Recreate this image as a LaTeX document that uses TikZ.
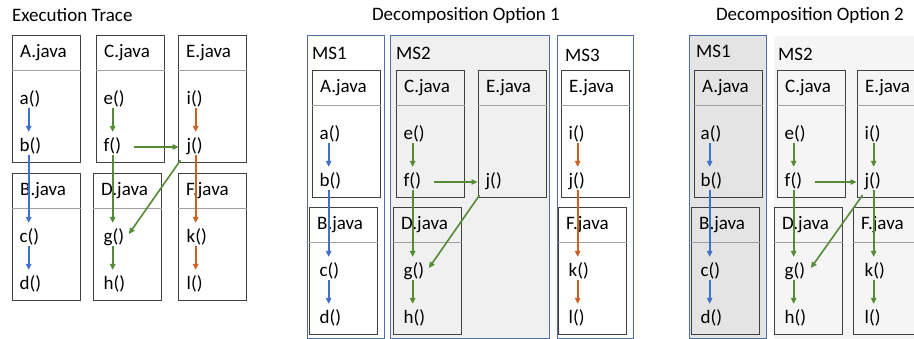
\documentclass[tikz,border=0pt]{standalone}
\usepackage{fontspec}
\setmainfont{Carlito}
\usetikzlibrary{arrows.meta,calc}
\definecolor{cblue}{HTML}{4070C8}
\definecolor{cgreen}{HTML}{558B35}
\definecolor{corange}{HTML}{CC6122}
\definecolor{msline}{HTML}{4F6FA8}
\definecolor{boxline}{HTML}{404040}
\definecolor{sepline}{HTML}{A0A0A0}
\definecolor{msfill}{HTML}{F0F0F0}
\definecolor{msdark}{HTML}{E4E4E4}
\definecolor{mslight}{HTML}{F5F5F5}
\tikzset{
  every node/.style={font=\fontsize{19}{22}\selectfont},
  classbox/.style={draw=boxline, line width=0.9pt, minimum width=68pt, minimum height=127pt, inner sep=0pt, anchor=north west},
  sepln/.style={draw=sepline, line width=0.8pt},
  lbl/.style={anchor=base west, inner sep=0pt},
  ttl/.style={anchor=base, inner sep=0pt},
  meth/.style={anchor=base west, inner sep=0pt, text width=18pt, align=left, text height=13pt, text depth=3pt},
  msbox/.style={draw=msline, line width=1.3pt, anchor=north west, inner sep=0pt, minimum height=303pt},
  call/.style={line width=1.6pt, -{Triangle[length=6pt,width=5.5pt]}, shorten >=7pt},
  hcall/.style={call, shorten <=12pt, shorten >=8pt},
  dcall/.style={line width=1.6pt, -{Triangle[length=6pt,width=5.5pt]}}
}
% #1 options, #2 name, #3 x, #4 y, #5 label
\newcommand\clsbox[5][]{%
  \node[classbox,#1] (#2) at (#3,#4) {};
  \draw[sepln] ($(#2.north west)+(0,35)$) -- ($(#2.north east)+(0,35)$);
  \node[lbl] (#2-l) at ($(#2.north west)+(8,23)$) {#5};
}
\begin{document}
\begin{tikzpicture}[x=1pt,y=-1pt]
\useasboundingbox (0,0) rectangle (914,339);
\clip (0,0) rectangle (914,339);

% ---------------- Panel 1: Execution Trace ----------------
\node[lbl] (t1) at (12,22) {Execution Trace};
\clsbox{p1A}{12}{35}{A.java}
\clsbox{p1C}{96}{35}{C.java}
\clsbox{p1E}{178}{35}{E.java}
\clsbox{p1B}{12}{173}{B.java}
\clsbox{p1D}{93}{173}{D.java}
\clsbox{p1F}{178}{173}{F.java}
\node[meth] (p1a) at (19.5,105) {a()};
\node[meth] (p1b) at (19.5,152) {b()};
\node[meth] (p1c) at (19.5,243) {c()};
\node[meth] (p1d) at (19.5,290) {d()};
\node[meth] (p1e) at (103.5,105) {e()};
\node[meth] (p1f) at (103.5,152) {f()};
\node[meth] (p1g) at (103.5,243) {g()};
\node[meth] (p1h) at (103.5,290) {h()};
\node[meth] (p1i) at (186.5,105) {i()};
\node[meth] (p1j) at (186.5,152) {j()};
\node[meth] (p1k) at (186.5,243) {k()};
\node[meth] (p1l) at (186.5,290) {l()};
\draw[call,cblue] (p1a.south) -- (p1b.north);
\draw[call,cblue] (p1b.south) -- (p1c.north);
\draw[call,cblue] (p1c.south) -- (p1d.north);
\draw[call,cgreen] (p1e.south) -- (p1f.north);
\draw[call,cgreen] (p1f.south) -- (p1g.north);
\draw[call,cgreen] (p1g.south) -- (p1h.north);
\draw[hcall,cgreen] (p1f.east) -- (p1j.west);
\draw[dcall,cgreen] ($(p1j.south west)+(-6,5)$) -- ($(p1g.east)+(7,-4)$);
\draw[call,corange] (p1i.south) -- (p1j.north);
\draw[call,corange] (p1j.south) -- (p1k.north);
\draw[call,corange] (p1k.south) -- (p1l.north);

% ---------------- Panel 2: Decomposition Option 1 ----------------
\node[ttl] (t2) at (466,21) {Decomposition Option 1};
\node[msbox, minimum width=77pt] (p2m1) at (307,35) {};
\node[msbox, minimum width=159pt, fill=msfill] (p2m2) at (390,35) {};
\node[msbox, minimum width=76pt] (p2m3) at (557,35) {};
\node[lbl] (p2m1l) at (312,60) {MS1};
\node[lbl] (p2m2l) at (396,60) {MS2};
\node[lbl] (p2m3l) at (565,62) {MS3};
\clsbox{p2A}{312}{70}{A.java}
\clsbox{p2B}{309}{207}{B.java}
\clsbox{p2C}{396}{70}{C.java}
\clsbox{p2E}{478}{70}{E.java}
\clsbox{p2D}{393}{207}{D.java}
\clsbox{p2E3}{561}{70}{E.java}
\clsbox{p2F}{558}{207}{F.java}
\node[meth] (p2a) at (319.5,140) {a()};
\node[meth] (p2b) at (319.5,187) {b()};
\node[meth] (p2c) at (319.5,277) {c()};
\node[meth] (p2d) at (319.5,324) {d()};
\node[meth] (p2e) at (403.5,140) {e()};
\node[meth] (p2f) at (403.5,187) {f()};
\node[meth] (p2g) at (403.5,277) {g()};
\node[meth] (p2h) at (403.5,324) {h()};
\node[meth] (p2j) at (485.5,187) {j()};
\node[meth] (p2i3) at (568.5,140) {i()};
\node[meth] (p2j3) at (568.5,187) {j()};
\node[meth] (p2k) at (568.5,277) {k()};
\node[meth] (p2l) at (568.5,324) {l()};
\draw[call,cblue] (p2a.south) -- (p2b.north);
\draw[call,cblue] (p2b.south) -- (p2c.north);
\draw[call,cblue] (p2c.south) -- (p2d.north);
\draw[call,cgreen] (p2e.south) -- (p2f.north);
\draw[call,cgreen] (p2f.south) -- (p2g.north);
\draw[call,cgreen] (p2g.south) -- (p2h.north);
\draw[hcall,cgreen] (p2f.east) -- (p2j.west);
\draw[dcall,cgreen] ($(p2j.south west)+(-6,5)$) -- ($(p2g.east)+(7,-4)$);
\draw[call,corange] (p2i3.south) -- (p2j3.north);
\draw[call,corange] (p2j3.south) -- (p2k.north);
\draw[call,corange] (p2k.south) -- (p2l.north);

% ---------------- Panel 3: Decomposition Option 2 ----------------
\node[ttl] (t3) at (810,21) {Decomposition Option 2};
\node[msbox, minimum width=77pt, fill=msdark] (p3m1) at (689,35) {};
\node[msbox, draw=none, minimum width=200pt, fill=mslight] (p3m2) at (773,35) {};
\node[lbl] (p3m1l) at (696,58) {MS1};
\node[lbl] (p3m2l) at (778,61) {MS2};
\clsbox{p3A}{694}{70}{A.java}
\clsbox{p3B}{691}{207}{B.java}
\clsbox{p3C}{777}{70}{C.java}
\clsbox{p3E}{857}{70}{E.java}
\clsbox{p3D}{774}{207}{D.java}
\clsbox{p3F}{853}{207}{F.java}
\node[meth] (p3a) at (700.5,140) {a()};
\node[meth] (p3b) at (700.5,187) {b()};
\node[meth] (p3c) at (700.5,277) {c()};
\node[meth] (p3d) at (700.5,324) {d()};
\node[meth] (p3e) at (784.5,140) {e()};
\node[meth] (p3f) at (784.5,187) {f()};
\node[meth] (p3g) at (784.5,277) {g()};
\node[meth] (p3h) at (784.5,324) {h()};
\node[meth] (p3i) at (864.5,140) {i()};
\node[meth] (p3j) at (864.5,187) {j()};
\node[meth] (p3k) at (864.5,277) {k()};
\node[meth] (p3l) at (864.5,324) {l()};
\draw[call,cblue] (p3a.south) -- (p3b.north);
\draw[call,cblue] (p3b.south) -- (p3c.north);
\draw[call,cblue] (p3c.south) -- (p3d.north);
\draw[call,cgreen] (p3e.south) -- (p3f.north);
\draw[call,cgreen] (p3f.south) -- (p3g.north);
\draw[call,cgreen] (p3g.south) -- (p3h.north);
\draw[hcall,cgreen] (p3f.east) -- (p3j.west);
\draw[dcall,cgreen] ($(p3j.south west)+(-2,5)$) -- ($(p3g.east)+(8,-4)$);
\draw[call,cgreen] (p3i.south) -- (p3j.north);
\draw[call,cgreen] (p3j.south) -- (p3k.north);
\draw[call,cgreen] (p3k.south) -- (p3l.north);
\end{tikzpicture}
\end{document}
